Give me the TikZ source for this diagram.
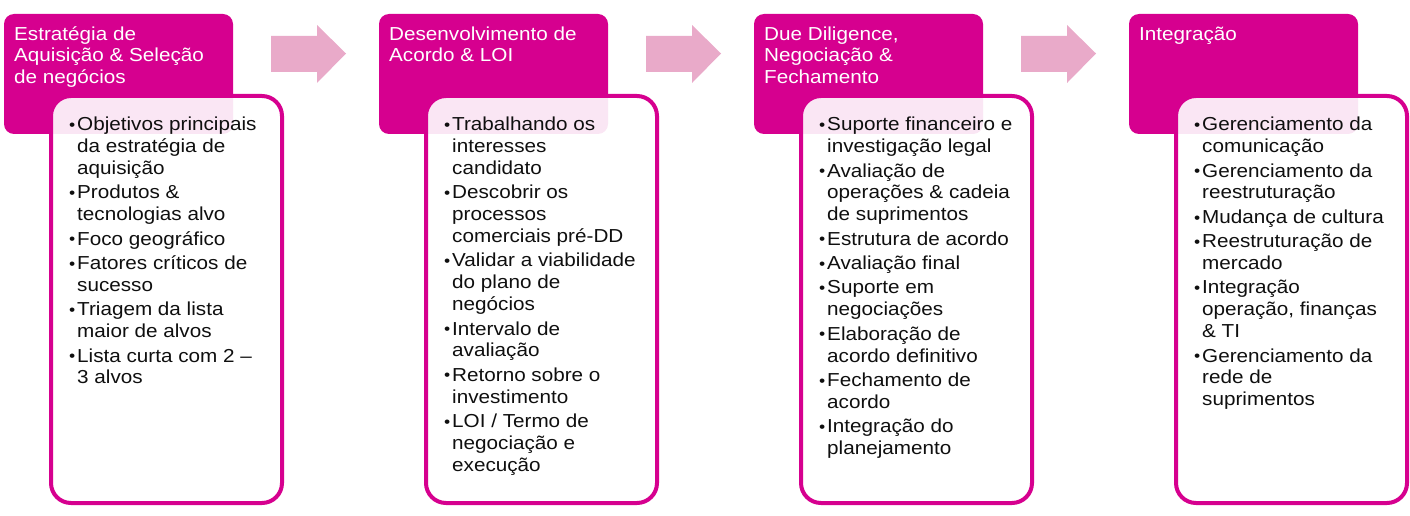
\documentclass[tikz,border=0pt]{standalone}
\usepackage{fontspec}
\setmainfont[FakeStretch=1.1]{Liberation Sans}
\definecolor{mag}{RGB}{214,0,143}
\definecolor{arrowpink}{RGB}{233,170,201}
\definecolor{bodytext}{RGB}{15,15,15}
\newcommand\itm[1]{\par\noindent\hangindent=8pt\hangafter=1\makebox[8pt][l]{\fontsize{16}{16}\selectfont\raisebox{0.3pt}{•}}#1\par}
\newcommand\hdrtext[1]{\parbox[t]{215pt}{\raggedright\fontsize{18.8}{21.5}\selectfont #1}}
\newcommand\bodytext[1]{\parbox[t]{215pt}{\raggedright\let\\\newline\fontsize{18.8}{21.8}\selectfont\setlength\parskip{2.6pt}#1}}
\tikzset{
  hdrbox/.style={fill=mag, rounded corners=10pt},
  bodybox/.style={draw=mag, line width=4pt, rounded corners=20pt, fill=white, fill opacity=0.9},
  hdrlabel/.style={anchor=base west, inner sep=0pt, text=white},
  bodylabel/.style={anchor=base west, inner sep=0pt, text=bodytext},
  flowarrow/.style={fill=arrowpink}
}
\begin{document}
\begin{tikzpicture}[x=1pt,y=-1pt]
\useasboundingbox (0,0) rectangle (1410,516);
% column 1
\begin{scope}[xshift=0pt]
\fill[hdrbox] (4,14) rectangle (233,134);
\node[hdrlabel] (h1) at (14,40.5) {\hdrtext{Estratégia de\\Aquisição \& Seleção\\de negócios}};
\draw[bodybox] (51,96) rectangle (282,503);
\node[bodylabel] (b1) at (69,131) {\bodytext{%
\itm{Objetivos principais\\da estratégia de\\aquisição}
\itm{Produtos \&\\tecnologias alvo}
\itm{Foco geográfico}
\itm{Fatores críticos de\\sucesso}
\itm{Triagem da lista\\maior de alvos}
\itm{Lista curta com 2 –\\3 alvos}}};
\end{scope}
% column 2
\begin{scope}[xshift=375pt]
\fill[hdrbox] (4,14) rectangle (233,134);
\node[hdrlabel] (h2) at (14,40.5) {\hdrtext{Desenvolvimento de\\Acordo \& LOI}};
\draw[bodybox] (51,96) rectangle (282,503);
\node[bodylabel] (b2) at (69,131) {\bodytext{%
\itm{Trabalhando os\\interesses\\candidato}
\itm{Descobrir os\\processos\\comerciais pré-DD}
\itm{Validar a viabilidade\\do plano de\\negócios}
\itm{Intervalo de\\avaliação}
\itm{Retorno sobre o\\investimento}
\itm{LOI / Termo de\\negociação e\\execução}}};
\end{scope}
% column 3
\begin{scope}[xshift=750pt]
\fill[hdrbox] (4,14) rectangle (233,134);
\node[hdrlabel] (h3) at (14,40.5) {\hdrtext{Due Diligence,\\Negociação \&\\Fechamento}};
\draw[bodybox] (51,96) rectangle (282,503);
\node[bodylabel] (b3) at (69,131) {\bodytext{%
\itm{Suporte financeiro e\\investigação legal}
\itm{Avaliação de\\operações \& cadeia\\de suprimentos}
\itm{Estrutura de acordo}
\itm{Avaliação final}
\itm{Suporte em\\negociações}
\itm{Elaboração de\\acordo definitivo}
\itm{Fechamento de\\acordo}
\itm{Integração do\\planejamento}}};
\end{scope}
% column 4
\begin{scope}[xshift=1125pt]
\fill[hdrbox] (4,14) rectangle (233,134);
\node[hdrlabel] (h4) at (14,40.5) {\hdrtext{Integração}};
\draw[bodybox] (51,96) rectangle (282,503);
\node[bodylabel] (b4) at (69,131) {\bodytext{%
\itm{Gerenciamento da\\comunicação}
\itm{Gerenciamento da\\reestruturação}
\itm{Mudança de cultura}
\itm{Reestruturação de\\mercado}
\itm{Integração\\operação, finanças\\\& TI}
\itm{Gerenciamento da\\rede de\\suprimentos}}};
\end{scope}
% arrows
\foreach \dx in {0,375,750} {
  \fill[flowarrow, xshift=\dx pt] (271,36) -- (317,36) -- (317,25) -- (346,53.5) -- (317,83) -- (317,72) -- (271,72) -- cycle;
}
\end{tikzpicture}
\end{document}
